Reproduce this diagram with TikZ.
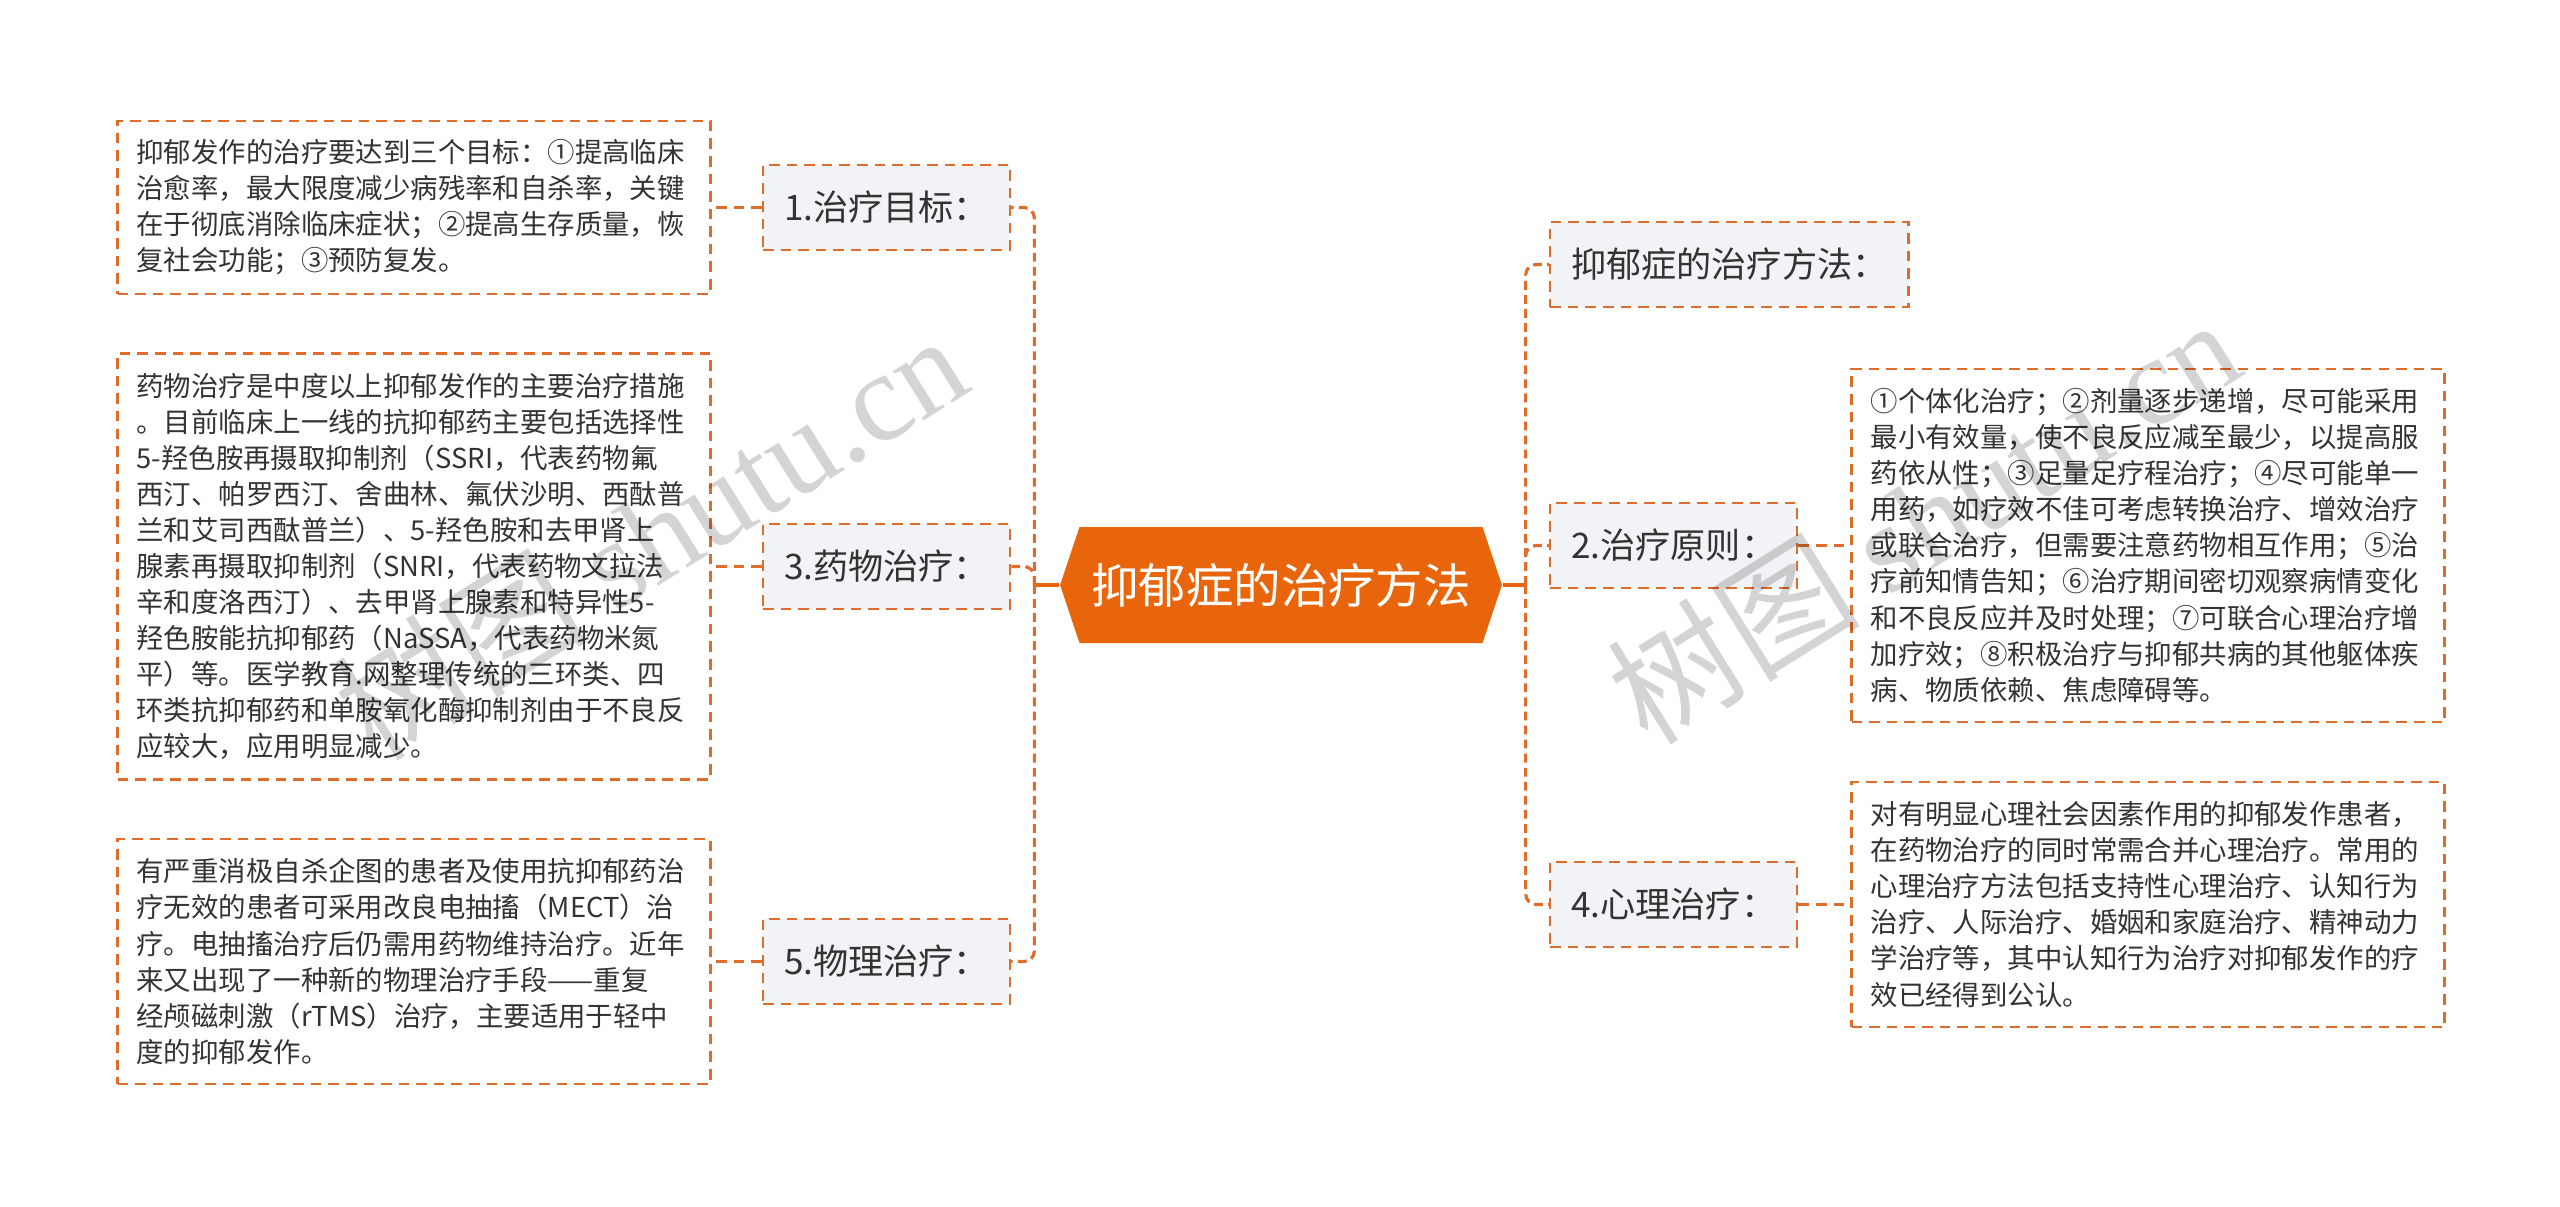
\documentclass[tikz,border=0pt]{standalone}
\usepackage{fontspec}
\setmainfont{Noto Sans CJK SC}
\newfontfamily\wmserif{Liberation Serif}
\usetikzlibrary{shapes.symbols, positioning}
\definecolor{brand}{HTML}{E8650C}
\definecolor{dashorange}{HTML}{DE6C2B}
\definecolor{topicfill}{HTML}{F1F3F6}
\definecolor{inktext}{HTML}{333333}
\tikzset{
    rootnode/.style = {
        signal, signal to=west and east, signal pointer angle=143,
        fill=brand, draw=none, text=white,
        minimum width=4.38cm, minimum height=1.16cm,
        font=\fontsize{13.5pt}{16pt}\selectfont
    },
    topic/.style = {
        rectangle, draw=dashorange, fill=topicfill,
        dash pattern=on 3pt off 2pt, line width=0.7pt,
        minimum height=0.85cm, inner xsep=0.21cm,
        text=inktext, font=\fontsize{10pt}{12pt}\selectfont
    },
    detail/.style = {
        rectangle, draw=dashorange,
        dash pattern=on 3pt off 2pt, line width=0.7pt,
        text width=5.55cm, inner xsep=0.19cm, inner ysep=0pt,
        align=left, text=inktext,
        font=\fontsize{7.8pt}{10.25pt}\selectfont
    },
    trunk/.style = {
        draw=brand, line width=1pt
    },
    branch/.style = {
        draw=dashorange, line width=0.9pt,
        dash pattern=on 2.5pt off 1.5pt, rounded corners=3pt
    },
    link/.style = {
        draw=dashorange, line width=0.7pt, dash pattern=on 3pt off 2pt
    },
    watermark/.style = {
        rotate=32, text=black, text opacity=0.17,
        font=\fontsize{36pt}{40pt}\selectfont
    }
}

\begin{document}
\begin{tikzpicture}

\path[fill=white] (0,0) rectangle (25.6,-12.06);
\useasboundingbox (0,0) rectangle (25.6,-12.06);

\node (root) [rootnode] at (12.81,-5.85) {抑郁症的治疗方法};

\node (goal) [topic] at (8.865,-2.075) {1.治疗目标：};
\node (drug) [topic] at (8.865,-5.665) {3.药物治疗：};
\node (physio) [topic] at (8.865,-9.615) {5.物理治疗：};

\node (method) [topic, anchor=west] at (15.49,-2.645) {抑郁症的治疗方法：};
\node (principle) [topic, anchor=west] at (15.49,-5.455) {2.治疗原则：};
\node (psycho) [topic, anchor=west] at (15.49,-9.045) {4.心理治疗：};

\node (goaltext) [detail, minimum height=1.73cm, left=0.5cm of goal] {抑郁发作的治疗要达到三个目标：①提高临床\\治愈率，最大限度减少病残率和自杀率，关键\\在于彻底消除临床症状；②提高生存质量，恢\\复社会功能；③预防复发。};
\node (drugtext) [detail, minimum height=4.26cm, left=0.5cm of drug] {药物治疗是中度以上抑郁发作的主要治疗措施\\。目前临床上一线的抗抑郁药主要包括选择性\\5-羟色胺再摄取抑制剂（SSRI，代表药物氟\\西汀、帕罗西汀、舍曲林、氟伏沙明、西酞普\\兰和艾司西酞普兰）、5-羟色胺和去甲肾上\\腺素再摄取抑制剂（SNRI，代表药物文拉法\\辛和度洛西汀）、去甲肾上腺素和特异性5-\\羟色胺能抗抑郁药（NaSSA，代表药物米氮\\平）等。医学教育.网整理传统的三环类、四\\环类抗抑郁药和单胺氧化酶抑制剂由于不良反\\应较大，应用明显减少。};
\node (physiotext) [detail, minimum height=2.45cm, left=0.5cm of physio] {有严重消极自杀企图的患者及使用抗抑郁药治\\疗无效的患者可采用改良电抽搐（MECT）治\\疗。电抽搐治疗后仍需用药物维持治疗。近年\\来又出现了一种新的物理治疗手段——重复\\经颅磁刺激（rTMS）治疗，主要适用于轻中\\度的抑郁发作。};
\node (principletext) [detail, minimum height=3.53cm, right=0.52cm of principle] {①个体化治疗；②剂量逐步递增，尽可能采用\\最小有效量，使不良反应减至最少，以提高服\\药依从性；③足量足疗程治疗；④尽可能单一\\用药，如疗效不佳可考虑转换治疗、增效治疗\\或联合治疗，但需要注意药物相互作用；⑤治\\疗前知情告知；⑥治疗期间密切观察病情变化\\和不良反应并及时处理；⑦可联合心理治疗增\\加疗效；⑧积极治疗与抑郁共病的其他躯体疾\\病、物质依赖、焦虑障碍等。};
\node (psychotext) [detail, minimum height=2.45cm, right=0.52cm of psycho] {对有明显心理社会因素作用的抑郁发作患者，\\在药物治疗的同时常需合并心理治疗。常用的\\心理治疗方法包括支持性心理治疗、认知行为\\治疗、人际治疗、婚姻和家庭治疗、精神动力\\学治疗等，其中认知行为治疗对抑郁发作的疗\\效已经得到公认。};

\coordinate [left=0.25cm of root.west] (lspine);
\coordinate [right=0.23cm of root.east] (rspine);

\draw [trunk] (root.west) -- (lspine);
\draw [trunk] (root.east) -- (rspine);
\draw [branch] (lspine) |- (goal.east);
\draw [branch] (lspine) |- (drug.east);
\draw [branch] (lspine) |- (physio.east);
\draw [branch] (rspine) |- (method.west);
\draw [branch] (rspine) |- (principle.west);
\draw [branch] (rspine) |- (psycho.west);

\draw [link] (goal) -- (goaltext);
\draw [link] (drug) -- (drugtext);
\draw [link] (physio) -- (physiotext);
\draw [link] (principle) -- (principletext);
\draw [link] (psycho) -- (psychotext);

\node (wmleft) [watermark] at (6.5,-5.35) {树图 {\wmserif shutu.cn}};
\node (wmright) [watermark] at (19.23,-5.19) {树图 {\wmserif shutu.cn}};

\end{tikzpicture}
\end{document}
